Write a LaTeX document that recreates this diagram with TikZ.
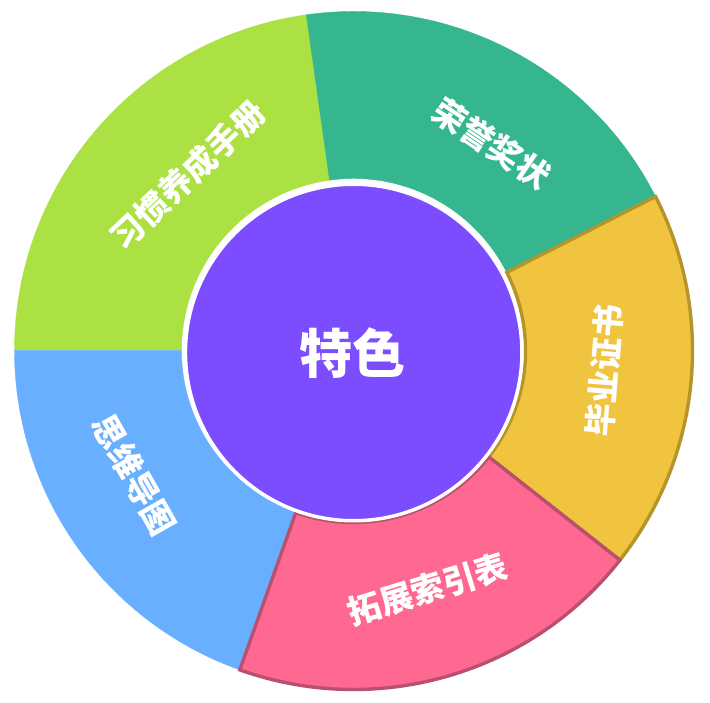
\documentclass[tikz,border=0pt]{standalone}
\usepackage{fontspec}
\newfontfamily\cjk{Noto Sans CJK SC}
\definecolor{cgreen}{HTML}{ACE144}
\definecolor{cteal}{HTML}{36B68E}
\definecolor{cblue}{HTML}{68B0FF}
\definecolor{cyellow}{HTML}{F0C43E}
\definecolor{cyellowb}{HTML}{B5952B}
\definecolor{cpink}{HTML}{FF6890}
\definecolor{cpinkb}{HTML}{BA5070}
\definecolor{cpurple}{HTML}{7C4DFF}
\begin{document}
\begin{tikzpicture}[x=1pt,y=1pt,
  plainseg/.style={line width=0.4pt},
  hiseg/.style={line width=3.4pt},
  lbl/.style={text=white, inner sep=0pt, font=\cjk\bfseries\fontsize{33}{33}\selectfont},
  hub/.style={circle, fill=cpurple, draw=white, line width=3.5pt, minimum size=336.5pt, inner sep=0pt}]
\useasboundingbox (-353.5,-352.5) rectangle (356.5,350.5);
% ring segments
\filldraw[plainseg, fill=cgreen, draw=cgreen] (98:172) -- (98:339) arc[start angle=98, end angle=180, radius=339pt] -- (180:172) arc[start angle=180, end angle=98, radius=172pt] -- cycle;
\filldraw[plainseg, fill=cteal, draw=cteal] (27:172) -- (27:339) arc[start angle=27, end angle=98, radius=339pt] -- (98:172) arc[start angle=98, end angle=27, radius=172pt] -- cycle;
\filldraw[plainseg, fill=cblue, draw=cblue] (180:172) -- (180:339) arc[start angle=180, end angle=250.4, radius=339pt] -- (250.4:172) arc[start angle=250.4, end angle=180, radius=172pt] -- cycle;
\filldraw[hiseg, fill=cyellow, draw=cyellowb] (-38.2:172) -- (-38.2:339) arc[start angle=-38.2, end angle=27, radius=339pt] -- (27:172) arc[start angle=27, end angle=-38.2, radius=172pt] -- cycle;
\filldraw[hiseg, fill=cpink, draw=cpinkb] (250.4:172) -- (250.4:339) arc[start angle=250.4, end angle=321.8, radius=339pt] -- (321.8:172) arc[start angle=321.8, end angle=250.4, radius=172pt] -- cycle;
% centre
\node[hub] (hub) at (0.2,-2) {};
\node[text=white, inner sep=0pt, font=\cjk\bfseries\fontsize{53}{53}\selectfont] (title) at (-1,-2.8) {特色};
% labels
\node[lbl, rotate=43.4] (l1) at (133.4:241.6) {习惯养成手册};
\node[lbl, rotate=-33.7] (l2) at (56.3:249) {荣誉奖状};
\node[lbl, rotate=85.4] (l3) at (-4.6:252) {毕业证书};
\node[lbl, rotate=17.35] (l4) at (-72.65:250) {拓展索引表};
\node[lbl, rotate=-60.4] (l5) at (-150.4:252) {思维导图};
\end{tikzpicture}
\end{document}
